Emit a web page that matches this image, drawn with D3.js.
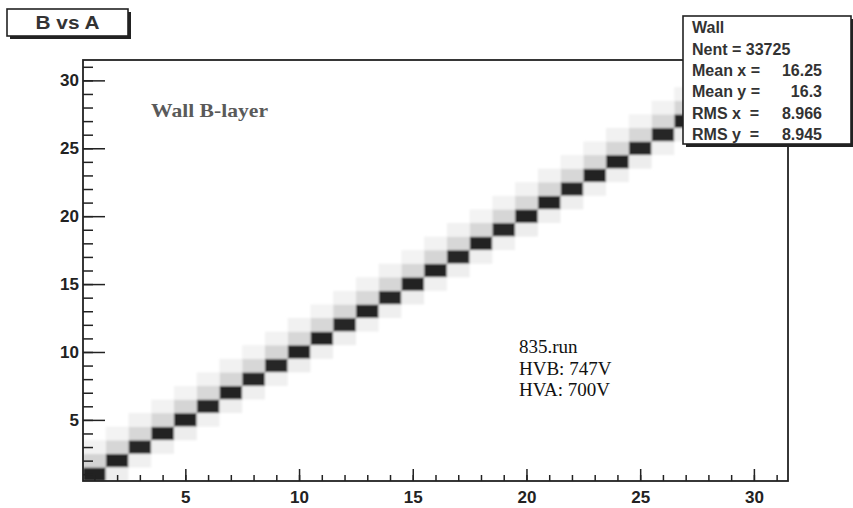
<!DOCTYPE html>
<html>
<head>
<meta charset="utf-8">
<script src="https://cdn.jsdelivr.net/npm/d3@7"></script>
<style>
  html, body { margin: 0; padding: 0; background: #fff; }
  svg { display: block; }
</style>
</head>
<body>
<svg id="chart" width="853" height="508"></svg>
<script>
// Bin centres of the 31x31 histogram (channel A on x, channel B on y)
const bins = [1,2,3,4,5,6,7,8,9,10,11,12,13,14,15,16,17,18,19,20,21,22,23,24,25,26,27,28,29,30,31];

// Entries where B == A (the diagonal)
const diagCounts = [1180,1010,985,1000,1020,990,1005,980,995,1010,1000,985,1015,990,1005,
                    1000,995,1010,985,1000,1005,990,1010,1000,985,995,1005,990,1000,1010,980];
// Entries where B == A + 1 (x = bins[i], y = bins[i] + 1)
const aboveCounts = [70,62,58,60,64,57,61,59,63,58,60,62,57,61,59,
                     63,58,60,62,57,61,59,60,62,58,60,61,59,60,58];
// Entries where B == A + 2
const above2Counts = [9,8,10,9,8,9,10,8,9,10,8,9,9,10,8,9,10,8,9,9,10,8,9,10,8,9,9,10,8];
// Entries where B == A - 1 (x = bins[i] + 1, y = bins[i])
const belowCounts = [14,12,13,15,12,14,13,12,15,13,14,12,13,15,12,
                     14,13,12,15,13,14,12,13,15,12,14,13,12,15,13];

const xTicks = [5,10,15,20,25,30];
const yTicks = [5,10,15,20,25,30];

const statsTitle = "Wall";
const statsRows = [
  ["Nent = 33725", ""],
  ["Mean x =", "16.25"],
  ["Mean y =", "16.3"],
  ["RMS x  =", "8.966"],
  ["RMS y  =", "8.945"]
];
const histTitle = "B vs A";
const layerLabel = "Wall B-layer";
const runNotes = ["835.run", "HVB: 747V", "HVA: 700V"];

// Build the list of filled cells from the count arrays
const cells = [];
bins.forEach((b, i) => cells.push({x: b, y: b, n: diagCounts[i]}));
aboveCounts.forEach((n, i) => cells.push({x: bins[i], y: bins[i + 1], n}));
above2Counts.forEach((n, i) => cells.push({x: bins[i], y: bins[i + 2], n}));
belowCounts.forEach((n, i) => cells.push({x: bins[i + 1], y: bins[i], n}));

const svg = d3.select("#chart");
const frame = {left: 83, right: 788, top: 60, bottom: 481};

const x = d3.scaleLinear().domain([0.5, 31.5]).range([frame.left, frame.right]);
const y = d3.scaleLinear().domain([0.5, 31.5]).range([frame.bottom, frame.top]);
const shade = d3.scalePow().exponent(0.6).domain([0, 1000]).range(["#ffffff", "#242424"]).clamp(true);

const defs = svg.append("defs");
defs.append("clipPath").attr("id", "plotClip")
  .append("rect")
  .attr("x", frame.left).attr("y", frame.top)
  .attr("width", frame.right - frame.left).attr("height", frame.bottom - frame.top);
defs.append("filter").attr("id", "soft")
  .attr("x", "-5%").attr("y", "-5%").attr("width", "110%").attr("height", "110%")
  .append("feGaussianBlur").attr("stdDeviation", 0.8);

svg.append("rect").attr("width", 853).attr("height", 508).attr("fill", "#fff");

// Histogram cells
const cellW = x(1.5) - x(0.5);
const cellH = y(0.5) - y(1.5);
svg.append("g")
  .attr("clip-path", "url(#plotClip)")
  .append("g")
  .attr("filter", "url(#soft)")
  .selectAll("rect")
  .data(cells)
  .join("rect")
  .attr("x", d => x(d.x - 0.5))
  .attr("y", d => y(d.y + 0.5))
  .attr("width", cellW)
  .attr("height", cellH)
  .attr("fill", d => shade(d.n));

// Axes with inward ticks: majors every 5, minors every 1
const axisColor = "#222";
const xMinor = d3.range(1, 32);
const yMinor = d3.range(1, 32);

const gx = svg.append("g").attr("transform", `translate(0,${frame.bottom})`);
gx.call(d3.axisBottom(x).tickValues(xMinor).tickSize(-6).tickFormat(""));
gx.select(".domain").remove();
const gxMaj = svg.append("g").attr("transform", `translate(0,${frame.bottom})`);
gxMaj.call(d3.axisBottom(x).tickValues(xTicks).tickSize(-12).tickPadding(10).tickFormat(d3.format("d")));
gxMaj.select(".domain").remove();

const gy = svg.append("g").attr("transform", `translate(${frame.left},0)`);
gy.call(d3.axisLeft(y).tickValues(yMinor).tickSize(-10).tickFormat(""));
gy.select(".domain").remove();
const gyMaj = svg.append("g").attr("transform", `translate(${frame.left},0)`);
gyMaj.call(d3.axisLeft(y).tickValues(yTicks).tickSize(-22).tickPadding(4).tickFormat(d3.format("d")));
gyMaj.select(".domain").remove();

svg.selectAll(".tick line").attr("stroke", axisColor).attr("stroke-width", 1.5);
svg.selectAll(".tick text")
  .attr("fill", "#222")
  .style("font-family", "'Liberation Sans', Arial, sans-serif")
  .style("font-weight", "bold")
  .style("font-size", "17px");

// Frame
svg.append("rect")
  .attr("x", frame.left).attr("y", frame.top)
  .attr("width", frame.right - frame.left).attr("height", frame.bottom - frame.top)
  .attr("fill", "none").attr("stroke", axisColor).attr("stroke-width", 1.8);

// Title box with drop shadow
const tb = {x: 7, y: 9, w: 121, h: 27};
svg.append("rect").attr("x", tb.x + 3).attr("y", tb.y + 3).attr("width", tb.w).attr("height", tb.h).attr("fill", "#222");
svg.append("rect").attr("x", tb.x).attr("y", tb.y).attr("width", tb.w).attr("height", tb.h)
  .attr("fill", "#fff").attr("stroke", "#222").attr("stroke-width", 1.6);
svg.append("text")
  .attr("x", tb.x + tb.w / 2).attr("y", tb.y + 20)
  .attr("text-anchor", "middle")
  .attr("fill", "#333")
  .style("font-family", "'Liberation Sans', Arial, sans-serif")
  .style("font-weight", "bold").style("font-size", "18px")
  .attr("textLength", 64).attr("lengthAdjust", "spacingAndGlyphs")
  .text(histTitle);

// Statistics box
const sb = {x: 683, y: 16, w: 168, h: 128};
svg.append("rect").attr("x", sb.x + 3).attr("y", sb.y + 3).attr("width", sb.w).attr("height", sb.h).attr("fill", "#222");
svg.append("rect").attr("x", sb.x).attr("y", sb.y).attr("width", sb.w).attr("height", sb.h)
  .attr("fill", "#fff").attr("stroke", "#222").attr("stroke-width", 1.6);
const statFont = g => g
  .attr("fill", "#333")
  .style("font-family", "'Liberation Sans', Arial, sans-serif")
  .style("font-weight", "bold").style("font-size", "16px")
  .attr("xml:space", "preserve");
svg.append("text").attr("x", 692).attr("y", 33).call(statFont).text(statsTitle);
statsRows.forEach((row, i) => {
  const by = 54.8 + 21.3 * i;
  svg.append("text").attr("x", 692).attr("y", by).call(statFont).text(row[0]);
  if (row[1]) {
    svg.append("text").attr("x", 822).attr("y", by).attr("text-anchor", "end").call(statFont).text(row[1]);
  }
});

// Annotations
svg.append("text")
  .attr("x", 151).attr("y", 117)
  .attr("fill", "#5a5a5a")
  .style("font-family", "'Liberation Serif', 'Times New Roman', serif")
  .style("font-weight", "bold").style("font-size", "19px")
  .attr("textLength", 117).attr("lengthAdjust", "spacingAndGlyphs")
  .text(layerLabel);

svg.append("g").selectAll("text")
  .data(runNotes)
  .join("text")
  .attr("x", 519)
  .attr("y", (d, i) => 353 + 21.5 * i)
  .attr("fill", "#111")
  .style("font-family", "'Liberation Serif', 'Times New Roman', serif")
  .style("font-size", "19px")
  .text(d => d);
</script>
</body>
</html>
